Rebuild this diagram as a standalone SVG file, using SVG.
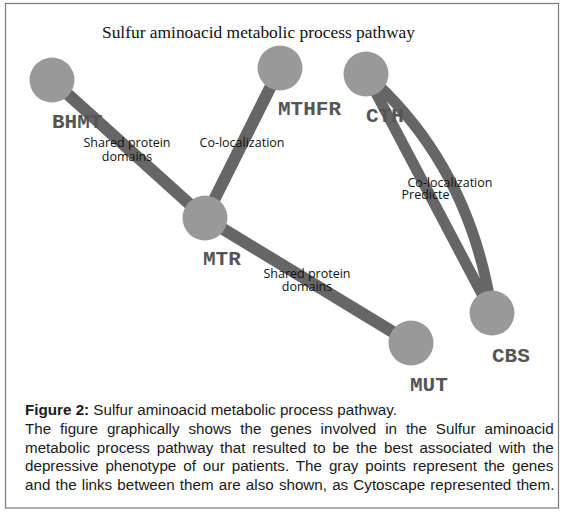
<svg xmlns="http://www.w3.org/2000/svg" width="567" height="513" viewBox="0 0 567 513">
<style>
.edge{fill:none;stroke:#666666;stroke-width:12;stroke-linecap:butt}
.node{fill:#999999}
.nlab{font-family:"Liberation Mono","Courier New",monospace;font-weight:bold;font-size:21px;fill:#555555}
.elab{font-family:"Open Sans","Noto Sans",sans-serif;font-size:12.5px;fill:#111111}
.cap{font-family:"Liberation Sans",Arial,sans-serif;font-size:15.2px;fill:#1a1a1a}
.title{font-family:"Liberation Serif","Times New Roman",serif;font-size:17.4px;fill:#111111}
</style>
<rect x="0" y="0" width="567" height="513" fill="#ffffff"/>
<rect x="5.5" y="3.5" width="553" height="504.5" fill="#ffffff" stroke="#7a7a7a" stroke-width="1.2"/>
<text class="title" x="102" y="38">Sulfur aminoacid metabolic process pathway</text>
<g id="connectors">
<line class="edge" x1="52" y1="80" x2="205" y2="218"/>
<line class="edge" x1="280" y1="68" x2="205" y2="218" stroke-width="11"/>
<line class="edge" x1="205" y1="218" x2="411" y2="343"/>
<path class="edge" d="M366,74 L492,313" style="stroke-width:11"/>
<path class="edge" d="M366,74 Q470,165 492,313" style="stroke-width:11"/>
</g>
<g id="edge-labels">
<text class="elab" text-anchor="middle" x="127" y="146.5">Shared protein</text>
<text class="elab" text-anchor="middle" x="127" y="161">domains</text>
<text class="elab" text-anchor="middle" x="242" y="147">Co-localization</text>
<text class="elab" text-anchor="middle" x="307" y="277.5">Shared protein</text>
<text class="elab" text-anchor="middle" x="307" y="291">domains</text>
<text class="elab" x="407.5" y="187">Co-localization</text>
<text class="elab" x="401.5" y="199">Predicte</text>
</g>
<g id="BHMT"><circle class="node" cx="52" cy="80" r="22.5"/><text class="nlab" x="52" y="128">BHMT</text></g>
<g id="MTHFR"><circle class="node" cx="280" cy="68" r="22.5"/><text class="nlab" x="278" y="115">MTHFR</text></g>
<g id="CTH"><circle class="node" cx="366" cy="74" r="22.5"/><text class="nlab" x="366" y="122">CTH</text></g>
<g id="MTR"><circle class="node" cx="205" cy="218" r="22.5"/><text class="nlab" x="203" y="265">MTR</text></g>
<g id="MUT"><circle class="node" cx="411" cy="343" r="22.5"/><text class="nlab" x="410" y="391">MUT</text></g>
<g id="CBS"><circle class="node" cx="492" cy="313" r="22.5"/><text class="nlab" x="492" y="362">CBS</text></g>
<g id="caption">
<text class="cap" x="25" y="415"><tspan font-weight="bold">Figure 2:</tspan> Sulfur aminoacid metabolic process pathway.</text>
<text class="cap" x="25" y="434" word-spacing="4.66">The figure graphically shows the genes involved in the Sulfur aminoacid</text>
<text class="cap" x="25" y="452.5" word-spacing="2.55">metabolic process pathway that resulted to be the best associated with the</text>
<text class="cap" x="25" y="471" word-spacing="2.71">depressive phenotype of our patients. The gray points represent the genes</text>
<text class="cap" x="25" y="489.5" word-spacing="0.93">and the links between them are also shown, as Cytoscape represented them.</text>
</g>
</svg>
